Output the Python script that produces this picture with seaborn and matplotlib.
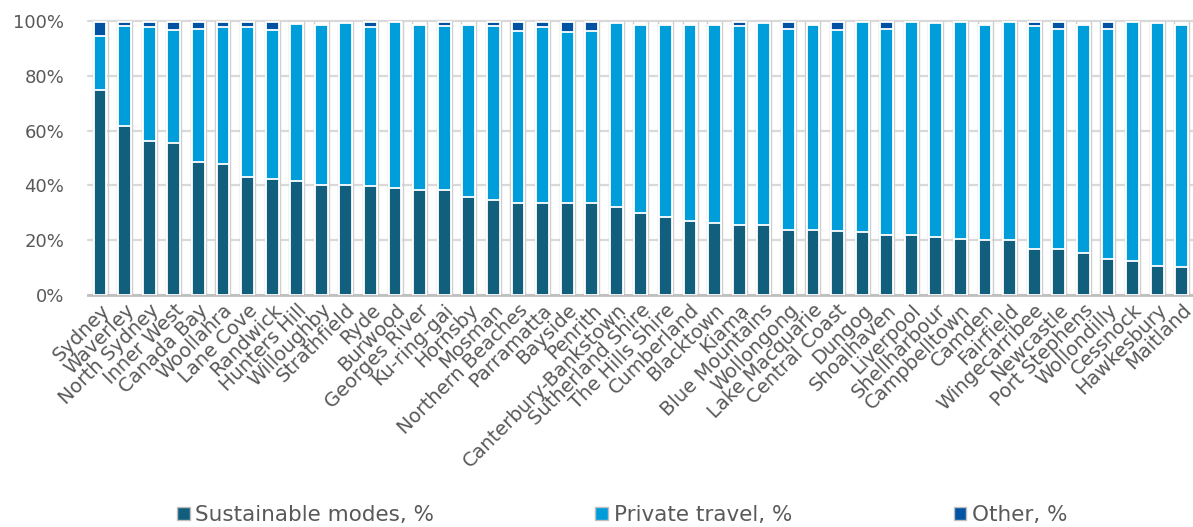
import numpy as np
import pandas as pd
import matplotlib
matplotlib.use("Agg")
import matplotlib.pyplot as plt
from matplotlib.patches import Patch
from matplotlib.ticker import FuncFormatter
import seaborn as sns

# Mode share of travel by local government area (% of trips)
councils = [
    "Sydney", "Waverley", "North Sydney", "Inner West", "Canada Bay", "Woollahra",
    "Lane Cove", "Randwick", "Hunters Hill", "Willoughby", "Strathfield", "Ryde",
    "Burwood", "Georges River", "Ku-ring-gai", "Hornsby", "Mosman",
    "Northern Beaches", "Parramatta", "Bayside", "Penrith", "Canterbury-Bankstown",
    "Sutherland Shire", "The Hills Shire", "Cumberland", "Blacktown", "Kiama",
    "Blue Mountains", "Wollongong", "Lake Macquarie", "Central Coast", "Dungog",
    "Shoalhaven", "Liverpool", "Shellharbour", "Campbelltown", "Camden",
    "Fairfield", "Wingecarribee", "Newcastle", "Port Stephens", "Wollondilly",
    "Cessnock", "Hawkesbury", "Maitland",
]

sustainable = [
    74.8, 61.8, 56.2, 55.6, 48.5, 47.8, 43.1, 42.5, 41.6, 40.1, 40.1, 39.8,
    39.2, 38.3, 38.3, 35.9, 34.7, 33.7, 33.7, 33.7, 33.7, 32.2, 29.8, 28.5,
    27.0, 26.2, 25.5, 25.5, 23.7, 23.7, 23.4, 22.9, 21.9, 21.9, 21.0, 20.6,
    20.1, 20.1, 16.8, 16.8, 15.2, 13.0, 12.5, 10.7, 10.1,
]

private_travel = [
    19.7, 36.4, 41.5, 41.1, 48.7, 49.9, 54.6, 54.2, 57.2, 58.6, 59.0, 57.9,
    60.4, 60.4, 59.9, 62.8, 63.5, 62.7, 64.0, 62.2, 62.7, 66.9, 68.9, 70.2,
    71.7, 72.5, 72.7, 73.6, 73.5, 75.0, 73.3, 76.7, 75.3, 77.7, 78.1, 79.0,
    78.6, 79.5, 81.4, 80.4, 83.5, 84.2, 87.1, 88.4, 88.6,
]

other = [
    5.1, 1.4, 1.9, 2.9, 2.4, 1.9, 1.9, 2.9, 0.5, 0.0, 0.0, 1.9,
    0.0, 0.0, 1.4, 0.0, 1.4, 3.2, 1.9, 3.7, 3.2, 0.0, 0.0, 0.0,
    0.0, 0.0, 1.4, 0.0, 2.4, 0.0, 2.9, 0.0, 2.4, 0.0, 0.0, 0.0,
    0.0, 0.0, 1.4, 2.4, 0.0, 2.4, 0.0, 0.0, 0.0,
]

series_names = ["Sustainable modes, %", "Private travel, %", "Other, %"]
series_colors = ["#125E7D", "#009DDB", "#0353A4"]

df = pd.DataFrame({
    "council": councils,
    "sustainable": sustainable,
    "private": private_travel,
    "other": other,
})
df["cum_private"] = df["sustainable"] + df["private"]
df["cum_other"] = df["cum_private"] + df["other"]

sns.set_theme(style="white")
plt.rcParams["font.family"] = ["DejaVu Sans"]
text_grey = "#595959"

fig = plt.figure(figsize=(11.93, 5.27), dpi=100)
ax = fig.add_axes([88 / 1193, 1 - 295 / 527, (1194 - 88) / 1193, (295 - 21) / 527])

n = len(councils)
pos = np.arange(n)
bar_w = 0.52

# light frame lines either side of each column
ax.vlines(np.concatenate([pos - 0.305, pos + 0.305]), 0, 100,
          colors="#CFCFCF", linewidth=1.0, zorder=1)

# stacked bars drawn as overlapping cumulative layers
layers = [("cum_other", series_colors[2]),
          ("cum_private", series_colors[1]),
          ("sustainable", series_colors[0])]
for col, colr in layers:
    sns.barplot(data=df, x="council", y=col, color=colr, width=bar_w,
                edgecolor="white", linewidth=1.3, errorbar=None,
                saturation=1, ax=ax, zorder=3)

ax.set_xlim(-0.49, n - 0.5)
ax.set_ylim(0, 100)
ax.set_yticks(np.arange(0, 101, 20))
ax.yaxis.set_major_formatter(FuncFormatter(lambda v, _: f"{v:.0f}%"))
ax.set_xlabel("")
ax.set_ylabel("")

ax.yaxis.grid(True, color="#D9D9D9", linewidth=1.6)
ax.xaxis.grid(False)
for gl in ax.get_ygridlines():
    gl.set_clip_on(False)
ax.set_axisbelow(True)

for s in ["top", "right", "left"]:
    ax.spines[s].set_visible(False)
ax.spines["bottom"].set_color("#BFBFBF")
ax.spines["bottom"].set_linewidth(2.0)

ax.tick_params(axis="y", length=0, pad=17, labelsize=13, labelcolor=text_grey)
ax.tick_params(axis="x", length=0, pad=4, labelsize=14, labelcolor=text_grey)
ax.set_xticks(pos)
ax.set_xticklabels(councils, rotation=45, ha="right", va="top",
                   rotation_mode="anchor")

handles = [Patch(facecolor=c, edgecolor="#BFBFBF", linewidth=1.0)
           for c in series_colors]
fig.legend(handles, series_names, loc="center",
           bbox_to_anchor=(622 / 1193, 1 - 515 / 527), ncol=3, frameon=False,
           fontsize=15.5, labelcolor=text_grey, handlelength=0.6,
           handleheight=0.6, handletextpad=0.25, columnspacing=7.5,
           borderaxespad=0, borderpad=0)

fig.savefig("out.png", dpi=100)
